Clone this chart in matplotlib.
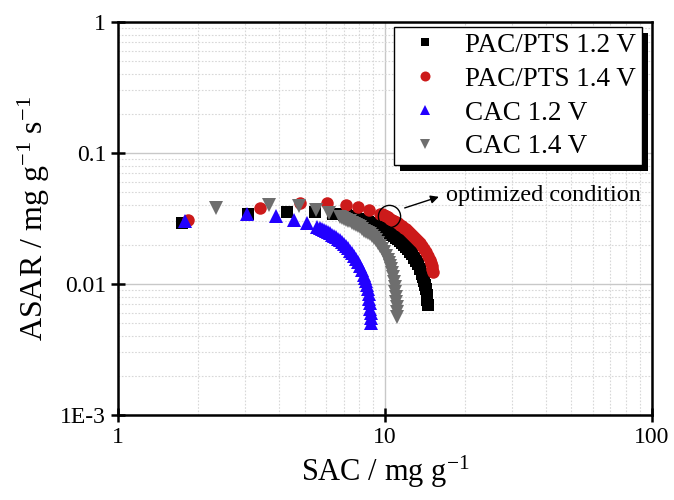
import matplotlib
matplotlib.use("Agg")
import matplotlib.pyplot as plt
from matplotlib.patches import Rectangle
from matplotlib.transforms import IdentityTransform
from matplotlib.ticker import LogLocator, NullFormatter

plt.rcParams['font.family'] = ['Liberation Serif', 'DejaVu Serif']
plt.rcParams['mathtext.fontset'] = 'custom'
plt.rcParams['mathtext.rm'] = 'Liberation Serif'
plt.rcParams['mathtext.it'] = 'Liberation Serif:italic'

# ---- data ----
pac12_x = [1.74, 3.07, 4.30, 5.47, 6.40,
           6.90, 7.02, 7.14, 7.27, 7.39, 7.52, 7.65, 7.79, 7.92, 8.06, 8.20, 8.34, 8.49, 8.64,
           8.78, 8.94, 9.09, 9.25, 9.41, 9.58, 9.74, 9.91, 10.09, 10.26, 10.44, 10.62, 10.81,
           11.00, 11.19, 11.38, 11.58, 11.78, 11.99, 12.20, 12.41, 12.62, 12.84, 13.07, 13.30,
           13.53, 13.76, 13.88, 14.00, 14.12, 14.25, 14.37, 14.43, 14.49]
pac12_y = [0.0292, 0.0342, 0.0355, 0.0355, 0.0345,
           0.0340, 0.0337, 0.0334, 0.0330, 0.0327, 0.0324, 0.0321, 0.0318, 0.0314, 0.0310,
           0.0307, 0.0303, 0.0300, 0.0296, 0.0292, 0.0288, 0.0284, 0.0279, 0.0275, 0.0270,
           0.0265, 0.0260, 0.0255, 0.0250, 0.0244, 0.0238, 0.0232, 0.0226, 0.0220, 0.0213,
           0.0206, 0.0199, 0.0192, 0.0184, 0.0176, 0.0168, 0.0159, 0.0150, 0.0141, 0.0131,
           0.0120, 0.0113, 0.0106, 0.0099, 0.0091, 0.0083, 0.0076, 0.0069]

pac14_x = [1.83, 3.40, 4.80, 6.06, 7.14, 7.92, 8.71,
           9.58, 9.74, 9.91, 10.09, 10.26, 10.44, 10.62, 10.81, 11.00, 11.19, 11.38, 11.58,
           11.78, 11.99, 12.20, 12.41, 12.62, 12.84, 13.07, 13.30, 13.53, 13.76, 14.00, 14.25,
           14.49, 14.75, 14.87, 15.00, 15.06, 15.13]
pac14_y = [0.0308, 0.0380, 0.0415, 0.0415, 0.0401, 0.0387, 0.0367,
           0.0345, 0.0340, 0.0334, 0.0328, 0.0322, 0.0316, 0.0310, 0.0303, 0.0297, 0.0290,
           0.0283, 0.0276, 0.0269, 0.0262, 0.0254, 0.0246, 0.0238, 0.0230, 0.0222, 0.0213,
           0.0204, 0.0195, 0.0185, 0.0175, 0.0164, 0.0153, 0.0145, 0.0137, 0.0130, 0.0124]

cac12_x = [1.78, 3.04, 3.91, 4.56, 5.10, 5.56,
           5.71, 5.81, 5.91, 6.01, 6.12, 6.22, 6.33, 6.44, 6.55, 6.67, 6.78, 6.90, 7.02, 7.14,
           7.27, 7.39, 7.52, 7.65, 7.79, 7.92, 8.06, 8.20, 8.34, 8.42, 8.49, 8.56, 8.64, 8.71,
           8.75, 8.78, 8.83, 8.87, 8.87, 8.87]
cac12_y = [0.0303, 0.0342, 0.0330, 0.0308, 0.0292, 0.0272,
           0.0268, 0.0263, 0.0258, 0.0253, 0.0248, 0.0243, 0.0238, 0.0233, 0.0228, 0.0222,
           0.0216, 0.0209, 0.0202, 0.0195, 0.0188, 0.0180, 0.0172, 0.0164, 0.0156, 0.0147,
           0.0138, 0.0128, 0.0117, 0.0111, 0.0105, 0.0098, 0.0091, 0.0084, 0.0077, 0.0071,
           0.0065, 0.0060, 0.0055, 0.0050]

cac14_x = [2.33, 3.68, 4.76, 5.52, 6.17,
           6.78, 6.90, 7.02, 7.14, 7.27, 7.39, 7.52, 7.65, 7.79, 7.92, 8.06, 8.20, 8.34, 8.49,
           8.64, 8.78, 8.94, 9.09, 9.25, 9.41, 9.58, 9.74, 9.91, 10.09, 10.26, 10.35, 10.44,
           10.53, 10.62, 10.71, 10.81, 10.90, 10.95, 11.00, 11.00, 11.09, 11.09, 11.09]
cac14_y = [0.0380, 0.0401, 0.0394, 0.0367, 0.0348,
           0.0325, 0.0320, 0.0315, 0.0310, 0.0305, 0.0300, 0.0294, 0.0288, 0.0282, 0.0276,
           0.0270, 0.0263, 0.0256, 0.0249, 0.0245, 0.0240, 0.0232, 0.0224, 0.0215, 0.0206,
           0.0196, 0.0186, 0.0176, 0.0165, 0.0152, 0.0145, 0.0138, 0.0130, 0.0122, 0.0113,
           0.0104, 0.0095, 0.0087, 0.0080, 0.0073, 0.0067, 0.0061, 0.0056]

labels = ['PAC/PTS 1.2 V', 'PAC/PTS 1.4 V', 'CAC 1.2 V', 'CAC 1.4 V']
x_ticks = [1, 10, 100]
x_ticklabels = ['1', '10', '100']
y_ticks = [0.001, 0.01, 0.1, 1]
y_ticklabels = ['1E-3', '0.01', '0.1', '1']

opt_point = (10.4, 0.0330)
opt_text = 'optimized condition'

fig = plt.figure(figsize=(6.74, 5.0), dpi=100)
ax = fig.add_axes([0.175, 0.17, 0.792, 0.786])

ax.plot(pac12_x, pac12_y, 's', color='black', ms=8, mew=0, label=labels[0], zorder=3)
ax.plot(pac14_x, pac14_y, 'o', color='#cc1a1a', ms=9, mew=0, label=labels[1], zorder=3)
ax.plot(cac12_x, cac12_y, '^', color='#2200ff', ms=9.5, mew=0, label=labels[2], zorder=3)
ax.plot(cac14_x, cac14_y, 'v', color='#6e6e6e', ms=9.5, mew=0, label=labels[3], zorder=3)

ax.set_xscale('log')
ax.set_yscale('log')
ax.set_xlim(1, 100)
ax.set_ylim(0.001, 1)

ax.set_xticks(x_ticks)
ax.set_xticklabels(x_ticklabels)
ax.set_yticks(y_ticks)
ax.set_yticklabels(y_ticklabels)
ax.xaxis.set_minor_locator(LogLocator(base=10, subs=range(2, 10)))
ax.yaxis.set_minor_locator(LogLocator(base=10, subs=range(2, 10)))
ax.xaxis.set_minor_formatter(NullFormatter())
ax.yaxis.set_minor_formatter(NullFormatter())

ax.grid(True, which='major', color='#c8c8c8', lw=1.0, ls='-', zorder=0)
ax.grid(True, which='minor', color='#d8d8d8', lw=0.8, ls=(0, (1.5, 1.5)), zorder=0)
ax.set_axisbelow(True)

for s in ax.spines.values():
    s.set_linewidth(1.8)
ax.tick_params(which='major', direction='inout', length=10, width=1.8, labelsize=17,
               top=False, right=False)
ax.tick_params(which='minor', length=0)

ax.set_xlabel('SAC / mg g$^{-1}$', fontsize=22, labelpad=4)
ax.set_ylabel('ASAR / mg g$^{-1}$ s$^{-1}$', fontsize=23, labelpad=6)

# optimized condition marker and arrow
ax.plot([opt_point[0]], [opt_point[1]], 'o', ms=16, mfc='none', mec='black', mew=1.0, zorder=4)
ax.annotate('', xy=(16.3, 0.0470), xytext=(11.6, 0.0375),
            arrowprops=dict(arrowstyle='-|>', color='black', lw=1.0, mutation_scale=12), zorder=4)
ax.text(17.0, 0.0470, opt_text, fontsize=17.5, va='center', ha='left', zorder=4)

leg = ax.legend(loc='upper right', bbox_to_anchor=(0.982, 0.988), fontsize=19.5, frameon=True,
                fancybox=False, edgecolor='black', framealpha=1, borderpad=0.22,
                labelspacing=0.33, handletextpad=0.55, handlelength=1.85, markerscale=0.8,
                borderaxespad=0)
leg.get_frame().set_linewidth(1.0)
leg.set_zorder(6)

fig.canvas.draw()
bb = leg.get_window_extent()
shadow = Rectangle((bb.x0 + 6, bb.y0 - 6), bb.width, bb.height, transform=IdentityTransform(),
                   facecolor='black', edgecolor='none', zorder=5.5)
ax.add_artist(shadow)
shadow.set_clip_on(False)

fig.savefig('out.png', dpi=100)
